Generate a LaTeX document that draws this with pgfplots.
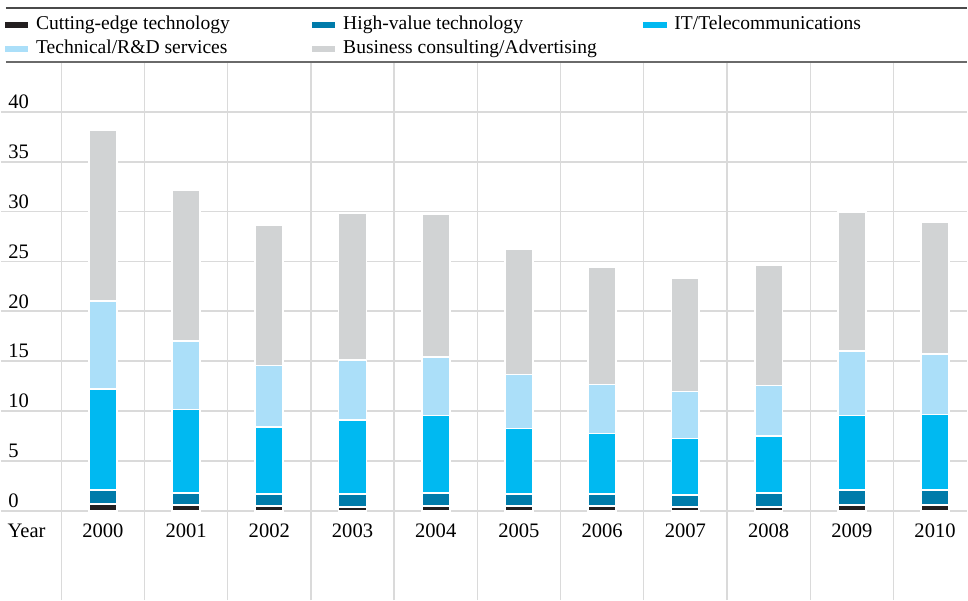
\documentclass[border=0pt]{standalone}
\usepackage{pgfplots}
\pgfplotsset{compat=1.18}
\usepackage{pgfplotstable}
\usepackage{fontspec}
\setmainfont{Liberation Serif}
\definecolor{cBlack}{HTML}{231F20}
\definecolor{cDark}{HTML}{007BAA}
\definecolor{cIT}{HTML}{00B9F1}
\definecolor{cTech}{HTML}{ABDFF9}
\definecolor{cGray}{HTML}{D1D3D4}
\definecolor{cGrid}{HTML}{DADADA}
\definecolor{cRule}{HTML}{6A6A6A}
\pgfplotstableread{
x cut high it tech bus
0 0.67 1.40 10.13 8.87 17.13
1 0.57 1.27 8.33 6.87 15.13
2 0.54 1.13 6.77 6.13 14.10
3 0.43 1.27 7.40 6.03 14.67
4 0.53 1.27 7.77 5.86 14.27
5 0.53 1.17 6.57 5.40 12.53
6 0.53 1.17 6.07 4.90 11.73
7 0.43 1.14 5.70 4.70 11.33
8 0.43 1.37 5.70 5.07 12.03
9 0.57 1.50 7.50 6.50 13.86
10 0.57 1.50 7.60 6.10 13.16
}\data
\begin{document}
\begin{tikzpicture}
\begin{axis}[
  scale only axis,
  width=484pt, height=269.65pt,
  xmin=-1.225, xmax=10.384,
  ymin=-8.93, ymax=45,
  clip=false,
  axis line style={draw=none},
  major tick length=0pt,
  ybar stacked, bar width=14pt,
  xtick={-0.917,0,1,2,3,4,5,6,7,8,9,10},
  xticklabels={Year,2000,2001,2002,2003,2004,2005,2006,2007,2008,2009,2010},
  xticklabel style={anchor=base, inner sep=0pt, yshift=31.5pt, font=\fontsize{10.3}{12}\selectfont},
  ytick={0,5,...,40},
  yticklabel style={anchor=base west, inner sep=0pt, xshift=3.5pt, yshift=1.7pt, font=\fontsize{10.3}{12}\selectfont},
  /pgf/number format/assume math mode=true,
  ymajorgrids,
  grid style={cGrid, line width=0.9pt},
  extra x ticks={-0.5,0.5,1.5,2.5,3.5,4.5,5.5,6.5,7.5,8.5,9.5},
  extra x tick labels={},
  extra x tick style={grid=major, grid style={cGrid, line width=0.7pt}},
  legend columns=3,
  legend cell align=left,
  legend style={at={(axis description cs:0,1)}, anchor=north west, xshift=1pt, yshift=23.8pt,
    draw=none, fill=none, inner sep=0pt, column sep=0pt, row sep=2pt,
    font=\fontsize{9.8}{12}\selectfont,
    nodes={inner sep=0pt, text height=7.5pt, text depth=2.5pt}},
  legend image code/.code={\fill[#1] (0pt,-2pt) rectangle (12.5pt,2pt);},
]
\addplot[fill=cBlack, draw=white, line width=0.9pt] table[x=x,y=cut]{\data};
\addlegendentry{\hspace*{3pt}\makebox[137.5pt][l]{Cutting-edge technology}}
\addplot[fill=cDark, draw=white, line width=0.9pt] table[x=x,y=high]{\data};
\addlegendentry{\hspace*{3pt}\makebox[149.5pt][l]{High-value technology}}
\addplot[fill=cIT, draw=white, line width=0.9pt] table[x=x,y=it]{\data};
\addlegendentry{\hspace*{3pt}IT/Telecommunications}
\addplot[fill=cTech, draw=white, line width=0.9pt] table[x=x,y=tech]{\data};
\addlegendentry{\hspace*{3pt}\makebox[137.5pt][l]{Technical/R\&D services}}
\addplot[fill=cGray, draw=white, line width=0.9pt] table[x=x,y=bus]{\data};
\addlegendentry{\hspace*{3pt}\makebox[149.5pt][l]{Business consulting/Advertising}}
\draw[cRule, line width=1pt] ([xshift=2.5pt]rel axis cs:0,1) -- (rel axis cs:1,1);
\draw[cRule!70!black, line width=1pt] ([xshift=2.5pt,yshift=27pt]rel axis cs:0,1) -- ([yshift=27pt]rel axis cs:1,1);
\path ([yshift=31pt]rel axis cs:0,1);
\end{axis}
\end{tikzpicture}
\end{document}
